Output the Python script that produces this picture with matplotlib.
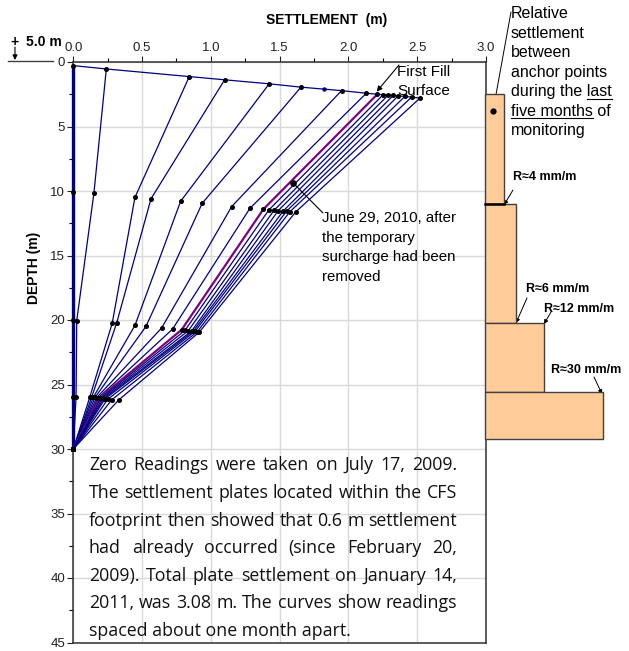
import matplotlib
matplotlib.use("Agg")
import matplotlib.pyplot as plt
from matplotlib.patches import Rectangle
from matplotlib.lines import Line2D
from matplotlib.ticker import MultipleLocator

W, H = 629, 651

# settlement (m) and depth (m) of each anchor level, one entry per monthly reading
top_set = [0.0, 0.24, 0.843, 1.10, 1.424, 1.655, 1.95, 2.13, 2.21, 2.253, 2.289, 2.326, 2.362, 2.41, 2.459, 2.52]
top_dep = [0.28, 0.54, 1.13, 1.38, 1.69, 1.95, 2.22, 2.42, 2.5, 2.53, 2.56, 2.59, 2.62, 2.67, 2.72, 2.8]
mid_set = [0.0, 0.15, 0.448, 0.565, 0.78, 0.937, 1.151, 1.284, 1.381, 1.422, 1.459, 1.49, 1.526, 1.55, 1.575, 1.616]
mid_dep = [10.05, 10.15, 10.5, 10.6, 10.8, 10.95, 11.21, 11.34, 11.42, 11.46, 11.5, 11.52, 11.55, 11.57, 11.6, 11.63]
low_set = [0.0, 0.025, 0.283, 0.315, 0.448, 0.528, 0.642, 0.722, 0.788, 0.812, 0.836, 0.86, 0.872, 0.884, 0.90, 0.916]
low_dep = [20.0, 20.05, 20.24, 20.24, 20.42, 20.5, 20.62, 20.7, 20.75, 20.8, 20.83, 20.85, 20.87, 20.89, 20.92, 20.94]
deep_set = [0.0, 0.02, 0.12, 0.133, 0.145, 0.158, 0.17, 0.18, 0.19, 0.20, 0.21, 0.22, 0.23, 0.25, 0.28, 0.33]
deep_dep = [25.95, 25.97, 25.97, 26.0, 26.0, 26.0, 26.02, 26.05, 26.05, 26.07, 26.08, 26.1, 26.12, 26.15, 26.18, 26.2]
base_dep = 30.0
june_idx = 8  # June 29, 2010 reading

# extra surface reading on the fill line
surf_extra = (1.824, 2.1)
june_point = (1.60, 9.4)

# relative settlement bars (right side)
bar_top = [2.45, 11.0, 20.2, 25.6]
bar_bot = [11.0, 20.2, 25.6, 29.2]
bar_width = [0.14, 0.23, 0.43, 0.86]
bar_labels = ["R\u22484 mm/m", "R\u22486 mm/m", "R\u224812 mm/m", "R\u224830 mm/m"]

note_lines = [
    "Zero Readings were taken on July 17, 2009.",
    "The settlement plates located within the CFS",
    "footprint then showed that 0.6 m settlement",
    "had already occurred (since February 20,",
    "2009). Total plate settlement on January 14,",
    "2011, was 3.08 m. The curves show readings",
    "spaced about one month apart.",
]

NAVY = "#000080"
PURPLE = "#800080"
SANS = ["Liberation Sans", "DejaVu Sans"]


def P(px, py):
    return px / W, 1 - py / H


fig = plt.figure(figsize=(W / 100, H / 100), dpi=100)
ax = fig.add_axes([73.3 / W, 1 - 642.5 / H, (486 - 73.3) / W, (642.5 - 62) / H])
ax.set_xlim(0, 3)
ax.set_ylim(45, 0)
ax.xaxis.tick_top()
ax.xaxis.set_major_locator(MultipleLocator(0.5))
ax.xaxis.set_minor_locator(MultipleLocator(0.25))
ax.yaxis.set_major_locator(MultipleLocator(5))
ax.yaxis.set_minor_locator(MultipleLocator(2.5))
ax.set_xticklabels([f"{v:.1f}" for v in ax.get_xticks()])
ax.tick_params(which="major", length=4, width=0.8, pad=2, labelsize=9.5, colors="#222222")
ax.tick_params(which="minor", length=3, width=0.8)
for lab in ax.get_xticklabels() + ax.get_yticklabels():
    lab.set_family(SANS)
ax.grid(True, color="#d9d9d9", lw=1)
ax.set_axisbelow(True)
for s in ax.spines.values():
    s.set_color("#303030")
    s.set_linewidth(1.1)

# fill surface line
ax.plot(top_set, top_dep, color=NAVY, lw=0.9, zorder=3)
ax.plot(*surf_extra, "o", color=NAVY, ms=2.2, zorder=4)

# reading curves
for i in range(len(top_set)):
    xs = [top_set[i], mid_set[i], low_set[i], deep_set[i], 0.0]
    ys = [top_dep[i], mid_dep[i], low_dep[i], deep_dep[i], base_dep]
    if i == 0:
        ax.plot(xs, ys, color=NAVY, lw=2.4, zorder=3, clip_on=False)
    elif i == june_idx:
        ax.plot(xs, ys, color=PURPLE, lw=1.6, zorder=3)
    else:
        ax.plot(xs, ys, color=NAVY, lw=0.9, zorder=3)
    ax.plot(xs, ys, "o", color="black", ms=2.6, ls="none", zorder=5, clip_on=False)

# June 29 annotation
ax.plot(*june_point, "o", color="black", ms=3.8, zorder=6)
ax.annotate("", xy=june_point, xycoords="data", xytext=P(323, 213),
            textcoords="figure fraction",
            arrowprops=dict(arrowstyle="-", color="black", lw=0.8, shrinkA=0, shrinkB=0))
for k, t in enumerate(["June 29, 2010, after", "the temporary", "surcharge had been", "removed"]):
    fig.text(*P(322, 222 + k * 19.6), t, fontsize=10.8, family=SANS, va="baseline")

# first fill surface
ax.annotate("", xy=(2.205, 2.3), xycoords="data", xytext=P(399, 65),
            textcoords="figure fraction",
            arrowprops=dict(arrowstyle="-|>", color="black", lw=0.8, mutation_scale=8,
                            shrinkA=0, shrinkB=0))
fig.text(*P(397, 76), "First Fill", fontsize=11, family=SANS, va="baseline")
fig.text(*P(397, 95), "Surface", fontsize=11, family=SANS, va="baseline")

# bars
for t, b, w in zip(bar_top, bar_bot, bar_width):
    ax.add_patch(Rectangle((2.99, t), w, b - t, facecolor="#FFCC99", edgecolor="#404040",
                           lw=1, clip_on=False, zorder=4))
ax.plot([2.99, 2.99 + bar_width[0]], [bar_bot[0], bar_bot[0]], color="black", lw=1.8,
        clip_on=False, zorder=5)

label_pos = [(513, 180), (526, 292), (544, 312), (551, 373)]
arrow_from = [(513, 190), (527, 298), (551, 312), (594, 377)]
arrow_to = [(504, 205), (516, 323), (544, 324), (602, 394)]
for lab, lp, af, at in zip(bar_labels, label_pos, arrow_from, arrow_to):
    fig.text(*P(*lp), lab, fontsize=9, fontweight="bold", family=SANS, va="baseline")
    ax.annotate("", xy=P(*at), xycoords="figure fraction", xytext=P(*af),
                textcoords="figure fraction",
                arrowprops=dict(arrowstyle="-|>", color="black", lw=0.7, mutation_scale=6,
                                shrinkA=0, shrinkB=0))

# axis titles
fig.text(*P(327, 24), "SETTLEMENT  (m)", fontsize=10, fontweight="bold", family=SANS,
         ha="center", va="baseline")
fig.text(*P(34, 268), "DEPTH (m)", fontsize=10, fontweight="bold", family=SANS,
         ha="center", va="center", rotation=90)

# +5.0 m reference mark
fig.text(*P(10, 46), "+", fontsize=10, fontweight="bold", family=SANS, va="baseline")
fig.text(*P(26, 46), "5.0 m", fontsize=10, fontweight="bold", family=SANS, va="baseline")
ax.annotate("", xy=P(15, 60), xycoords="figure fraction", xytext=P(15, 47),
            textcoords="figure fraction",
            arrowprops=dict(arrowstyle="-|>", color="black", lw=0.8, mutation_scale=7,
                            shrinkA=0, shrinkB=0))
fig.add_artist(Line2D([P(8, 61)[0], P(53, 61)[0]], [P(8, 61)[1], P(53, 61)[1]],
                      transform=fig.transFigure, color="#404040", lw=1))

fig.canvas.draw()
renderer = fig.canvas.get_renderer()


def text_width(s, **kw):
    tmp = fig.text(0, 0, s, **kw)
    w = tmp.get_window_extent(renderer).width
    tmp.remove()
    return w


# relative settlement note with underlines
rel_lines = ["Relative", "settlement", "between", "anchor points", "during the last",
             "five months of", "monitoring"]
for k, t in enumerate(rel_lines):
    yb = 18.5 + k * 19.4
    fig.text(*P(511, yb), t, fontsize=11.5, family=SANS, va="baseline")
    full = text_width(t, fontsize=11.5, family=SANS)
    if t.startswith("during"):
        wl = text_width("last", fontsize=11.5, family=SANS)
        x0, x1 = 511 + full - wl, 511 + full
    elif t.startswith("five"):
        x0, x1 = 511, 511 + text_width("five months", fontsize=11.5, family=SANS)
    else:
        continue
    fig.add_artist(Line2D([x0 / W, x1 / W], [P(0, yb + 2.5)[1]] * 2,
                          transform=fig.transFigure, color="black", lw=0.8))
ax.annotate("", xy=P(493, 111), xycoords="figure fraction", xytext=P(511, 12),
            textcoords="figure fraction",
            arrowprops=dict(arrowstyle="-", color="black", lw=0.7, shrinkA=0, shrinkB=0))
ax.plot([3.049], [3.8], "o", color="black", ms=3.5, clip_on=False, zorder=6)

# justified note block; pick the largest size that still leaves a small word gap
NOTE_FONT = ["Open Sans", "DejaVu Sans"]
left, right = 89, 457
size = 13.0
while size > 9:
    ok = True
    for line in note_lines[:-1]:
        words = line.split()
        total = sum(text_width(w, fontsize=size, family=NOTE_FONT) for w in words)
        if (right - left - total) / (len(words) - 1) < 0.22 * size * 100 / 72:
            ok = False
            break
    if ok:
        break
    size -= 0.25

for i, line in enumerate(note_lines):
    yb = P(0, 470.5 + i * 27.6)[1]
    if i == len(note_lines) - 1:
        fig.text(left / W, yb, line, fontsize=size, family=NOTE_FONT, va="baseline",
                 color="#111111")
        continue
    words = line.split()
    texts = [fig.text(0, yb, w, fontsize=size, family=NOTE_FONT, va="baseline",
                      color="#111111") for w in words]
    widths = [t.get_window_extent(renderer).width for t in texts]
    gap = (right - left - sum(widths)) / (len(words) - 1)
    x = left
    for t, w in zip(texts, widths):
        t.set_x(x / W)
        x += w + gap

fig.savefig("out.png", dpi=100)
